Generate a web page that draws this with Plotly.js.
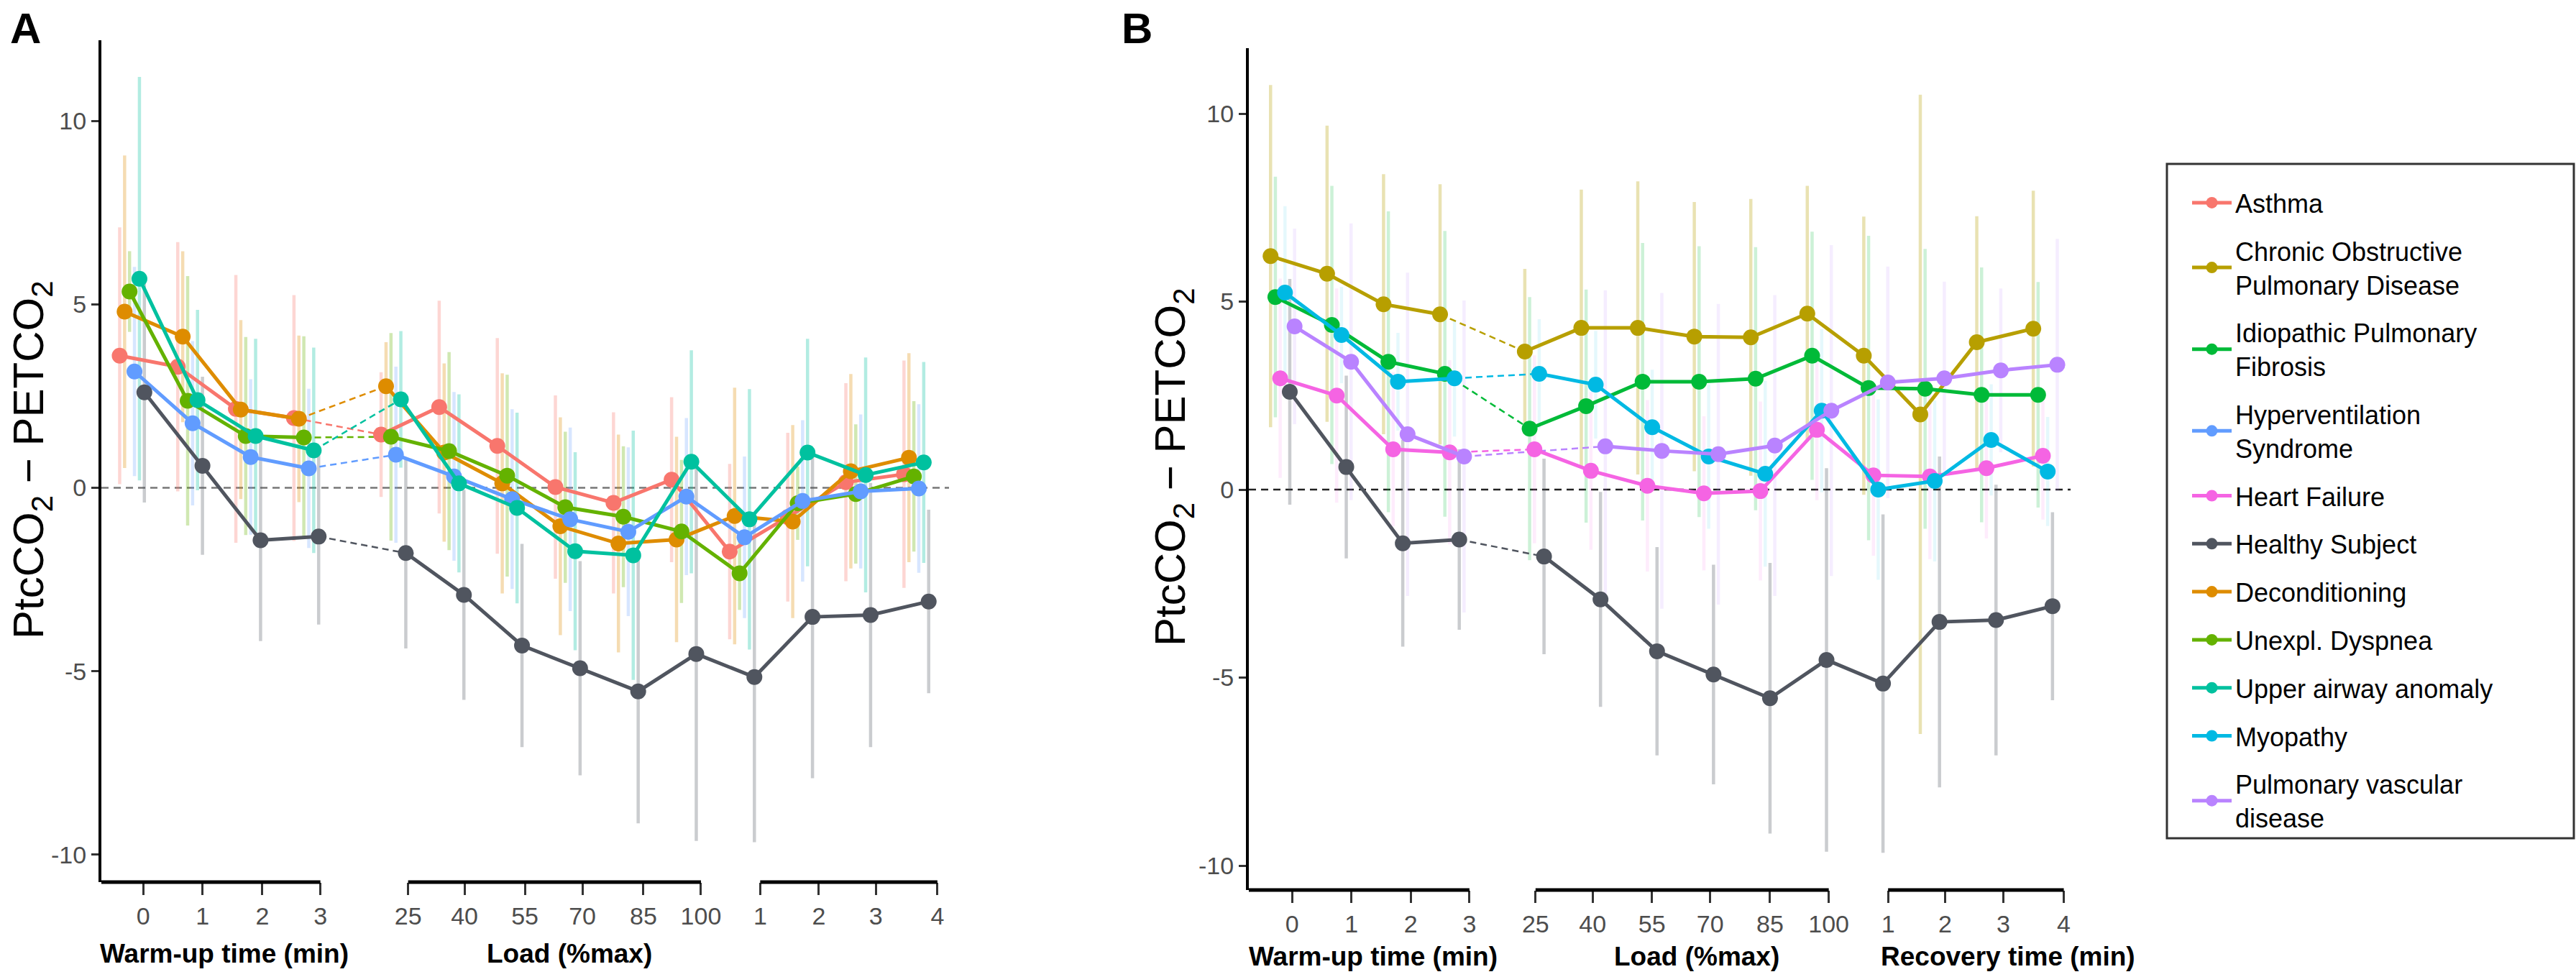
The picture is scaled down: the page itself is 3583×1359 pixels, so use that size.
<!DOCTYPE html>
<html>
<head>
<meta charset="utf-8">
<script src="https://cdn.plot.ly/plotly-3.0.1.min.js"></script>
<style>body{margin:0;background:#fff}</style>
</head>
<body>
<div id="chart" style="width:3583px;height:1359px"></div>
<script>
// x categories: warm-up (min) | load (%max) | recovery (min)
var tickLabels = ['0','1','2','3','25','40','55','70','85','100','1','2','3','4'];
var slots = [0, 1, 2, 3, 4.5, 5.5, 6.5, 7.5, 8.5, 9.5, 10.5, 11.5, 12.5, 13.5];
var yTickVals = [-10, -5, 0, 5, 10];
var yTickText = ['-10', '-5', '0', '5', '10'];

// mean and SD of PtcCO2 - PETCO2 per time point
var asthmaMean = [3.6, 3.3, 2.15, 1.9, 1.45, 2.2, 1.14, 0.02, -0.41, 0.22, -1.74, -0.8, 0.15, 0.37];
var asthmaSd   = [3.5, 3.4, 3.65, 3.35, 1.7, 2.9, 2.94, 2.5, 2.47, 2.25, 2.39, 2.3, 2.7, 3.1];
var decondMean = [4.8, 4.12, 2.13, 1.88, 2.77, 0.96, 0.12, -1.05, -1.52, -1.41, -0.77, -0.92, 0.45, 0.82];
var decondSd   = [4.26, 2.33, 2.44, 2.27, 1.2, 2.43, 3.0, 2.97, 2.97, 2.8, 3.5, 2.63, 2.65, 2.85];
var dyspneaMean = [5.35, 2.37, 1.41, 1.37, 1.39, 1.0, 0.33, -0.53, -0.79, -1.19, -2.33, -0.42, -0.17, 0.31];
var dyspneaSd   = [1.1, 3.4, 2.7, 2.76, 2.83, 2.7, 2.75, 2.06, 1.92, 1.95, 1.0, 1.0, 1.9, 2.05];
var hypervMean = [3.17, 1.76, 0.84, 0.53, 0.9, 0.31, -0.31, -0.86, -1.2, -0.24, -1.35, -0.36, -0.1, -0.02];
var hypervSd   = [2.85, 2.24, 2.12, 2.17, 2.4, 2.3, 2.45, 2.5, 2.3, 2.14, 2.2, 2.2, 2.1, 2.3];
var airwayMean = [5.7, 2.39, 1.41, 1.02, 2.41, 0.12, -0.55, -1.73, -1.84, 0.71, -0.86, 0.96, 0.35, 0.69];
var airwaySd   = [5.5, 2.46, 2.65, 2.8, 1.86, 2.43, 2.6, 2.7, 3.4, 3.04, 3.55, 3.1, 3.2, 2.74];
var healthyMean = [2.6, 0.6, -1.43, -1.33, -1.78, -2.92, -4.3, -4.92, -5.55, -4.53, -5.16, -3.52, -3.47, -3.1];
var healthySd   = [3.0, 2.43, 2.75, 2.4, 2.6, 2.86, 2.77, 2.92, 3.6, 5.1, 4.5, 4.4, 3.6, 2.5];

var copdMean = [6.21, 5.74, 4.93, 4.66, 3.67, 4.3, 4.3, 4.07, 4.05, 4.68, 3.56, 2.0, 3.92, 4.28];
var copdSd   = [4.55, 3.94, 3.46, 3.46, 2.2, 3.68, 3.9, 3.58, 3.68, 3.4, 3.7, 8.5, 3.35, 3.67];
var ipfMean = [5.12, 4.38, 3.4, 3.08, 1.62, 2.22, 2.87, 2.87, 2.95, 3.56, 2.7, 2.68, 2.52, 2.52];
var ipfSd   = [3.2, 3.7, 4.0, 3.8, 3.5, 3.1, 3.69, 3.6, 3.5, 3.3, 4.05, 3.72, 3.39, 3.0];
var hfMean = [2.96, 2.5, 1.07, 0.99, 1.07, 0.5, 0.1, -0.1, -0.04, 1.59, 0.38, 0.35, 0.57, 0.9];
var hfSd   = [2.65, 2.85, 2.05, 2.45, 2.5, 2.1, 2.28, 2.05, 2.38, 1.87, 2.14, 2.2, 1.87, 1.7];
var myoMean = [5.24, 4.11, 2.87, 2.96, 3.08, 2.79, 1.66, 0.88, 0.42, 2.1, 0.0, 0.23, 1.32, 0.48];
var myoSd   = [2.3, 1.28, 1.3, 1.55, 1.45, 1.43, 1.53, 1.92, 2.47, 2.17, 2.4, 2.14, 1.48, 1.45];
var pvdMean = [4.34, 3.4, 1.47, 0.88, null, 1.15, 1.03, 0.94, 1.17, 2.1, 2.85, 2.96, 3.17, 3.32];
var pvdSd   = [2.6, 3.68, 4.3, 4.15, null, 4.15, 4.2, 4.0, 4.0, 4.4, 3.08, 2.57, 2.18, 3.35];

var FONT = 'Liberation Sans, Arial, sans-serif';
var dodgeStep = 0.085;

// panel, name, data, style
var series = [
  {panel:'A', name:'Asthma', mean:asthmaMean, sd:asthmaSd, color:'#F8766D', alpha:0.3, dodge:-5, rank:1},
  {panel:'A', name:'Deconditioning', mean:decondMean, sd:decondSd, color:'#DE8C00', alpha:0.3, dodge:-4, rank:7},
  {panel:'A', name:'Unexpl. Dyspnea', mean:dyspneaMean, sd:dyspneaSd, color:'#64B200', alpha:0.3, dodge:-3, rank:8},
  {panel:'A', name:'Hyperventilation<br>Syndrome', mean:hypervMean, sd:hypervSd, color:'#619CFF', alpha:0.25, dodge:-2, rank:4},
  {panel:'A', name:'Upper airway anomaly', mean:airwayMean, sd:airwaySd, color:'#00C19F', alpha:0.3, dodge:-1, rank:9},
  {panel:'A', name:'Healthy Subject', mean:healthyMean, sd:healthySd, color:'#50555F', alpha:0.3, dodge:0, rank:6},
  {panel:'B', name:'Chronic Obstructive<br>Pulmonary Disease', mean:copdMean, sd:copdSd, color:'#B79F00', alpha:0.3, dodge:-4, rank:2},
  {panel:'B', name:'Idiopathic Pulmonary<br>Fibrosis', mean:ipfMean, sd:ipfSd, color:'#00BA38', alpha:0.2, dodge:-3, rank:3},
  {panel:'B', name:'Heart Failure', mean:hfMean, sd:hfSd, color:'#F564E3', alpha:0.12, dodge:-2, rank:5},
  {panel:'B', name:'Myopathy', mean:myoMean, sd:myoSd, color:'#00B9E3', alpha:0.1, dodge:-1, rank:10},
  {panel:'B', name:'Healthy Subject', mean:healthyMean, sd:healthySd, color:'#50555F', alpha:0.3, dodge:0, rank:6, noLegend:true},
  {panel:'B', name:'Pulmonary vascular<br>disease', mean:pvdMean, sd:pvdSd, color:'#B983FF', alpha:0.15, dodge:1, rank:11}
];

function rgba(hex, a) {
  var r = parseInt(hex.substr(1, 2), 16);
  var g = parseInt(hex.substr(3, 2), 16);
  var b = parseInt(hex.substr(5, 2), 16);
  return 'rgba(' + r + ',' + g + ',' + b + ',' + a + ')';
}

var barTraces = [];
var dashTraces = [];
var lineTraces = [];

for (var s = 0; s < series.length; s++) {
  var d = series[s];
  var xa = d.panel == 'A' ? 'x' : 'x2';
  var ya = d.panel == 'A' ? 'y' : 'y2';
  var xs = [];
  for (var i = 0; i < slots.length; i++) {
    xs.push(slots[i] + d.dodge * dodgeStep);
  }

  // error bars (mean +/- SD), drawn underneath everything
  barTraces.push({
    x: xs, y: d.mean, xaxis: xa, yaxis: ya,
    type: 'scatter', mode: 'markers',
    marker: {size: 1, color: 'rgba(0,0,0,0)'},
    error_y: {type: 'data', array: d.sd, visible: true, color: rgba(d.color, d.alpha), thickness: 4.5, width: 0},
    showlegend: false, hoverinfo: 'skip'
  });

  // solid line: warm-up part, gap, load + recovery part
  var lx = [], ly = [];
  for (i = 0; i < slots.length; i++) {
    if (i == 4) { lx.push(null); ly.push(null); }
    lx.push(xs[i]); ly.push(d.mean[i]);
  }
  lineTraces.push({
    x: lx, y: ly, xaxis: xa, yaxis: ya,
    type: 'scatter', mode: 'lines+markers', name: d.name,
    line: {color: d.color, width: 5},
    marker: {color: d.color, size: 22},
    connectgaps: false,
    legendgroup: 'g' + d.rank, legendrank: d.rank,
    showlegend: !d.noLegend
  });

  // thin dashed link between warm-up and first load step
  var j = 4;
  while (d.mean[j] == null) j++;
  dashTraces.push({
    x: [xs[3], xs[j]], y: [d.mean[3], d.mean[j]], xaxis: xa, yaxis: ya,
    type: 'scatter', mode: 'lines',
    line: {color: d.color, width: 2.5, dash: '9px,6px'},
    showlegend: false, hoverinfo: 'skip'
  });
}

var data = barTraces.concat(dashTraces).concat(lineTraces);

var W = 3583, H = 1359;
function px(x) { return x / W; }
function py(y) { return 1 - y / H; }

var ticksA = [-0.02, 1.0, 2.03, 3.03, 4.54, 5.51, 6.55, 7.54, 8.59, 9.58, 10.6, 11.61, 12.59, 13.65];
var ticksB = [0.04, 1.09, 2.14, 3.18, 4.35, 5.36, 6.41, 7.44, 8.5, 9.54, 10.59, 11.6, 12.63, 13.7];

function xAxis(domain, range, tickvals) {
  return {
    domain: domain, range: range, showgrid: false, zeroline: false, showline: false,
    tickmode: 'array', tickvals: tickvals, ticktext: tickLabels,
    ticks: 'outside', ticklen: 17, tickwidth: 3, tickcolor: '#333',
    tickfont: {family: FONT, size: 34, color: '#4d4d4d'}, fixedrange: true
  };
}
function yAxis(domain, range, anchor) {
  return {
    domain: domain, range: range, anchor: anchor, showgrid: false, zeroline: false,
    showline: true, linecolor: '#000', linewidth: 4,
    tickmode: 'array', tickvals: yTickVals, ticktext: yTickText,
    ticks: 'outside', ticklen: 10, tickwidth: 3, tickcolor: '#333',
    tickfont: {family: FONT, size: 34, color: '#4d4d4d'}, fixedrange: true
  };
}

var xa = xAxis([px(141), px(1320)], [-0.74, 13.85], ticksA);
var xb = xAxis([px(1737), px(2880)], [-0.725, 13.82], ticksB);
xb.anchor = 'y2';
var ybA = py(1227), ybB = py(1238);

function bracket(xref, x0, x1, yp) {
  return {type: 'line', xref: xref, yref: 'paper', x0: x0, x1: x1, y0: yp, y1: yp,
          line: {color: '#000', width: 5}, layer: 'above'};
}

var shapes = [
  bracket('x', -0.74, 3.03, ybA), bracket('x', 4.54, 9.58, ybA), bracket('x', 10.6, 13.65, ybA),
  bracket('x2', -0.725, 3.18, ybB), bracket('x2', 4.35, 9.54, ybB), bracket('x2', 10.59, 13.7, ybB),
  {type: 'line', xref: 'x domain', yref: 'y', x0: 0, x1: 1, y0: 0, y1: 0, layer: 'below',
   line: {color: '#777', width: 2.5, dash: '10px,7px'}},
  {type: 'line', xref: 'x2 domain', yref: 'y2', x0: 0, x1: 1, y0: 0, y1: 0, layer: 'below',
   line: {color: '#222', width: 2.5, dash: '10px,7px'}},
  // legend frame
  {type: 'rect', xref: 'paper', yref: 'paper', x0: px(3014), x1: px(3580), y0: py(1166), y1: py(228),
   line: {color: '#333', width: 3}, fillcolor: 'rgba(0,0,0,0)'}
];

var yTitle = 'PtcCO<sub>2</sub> \u2212 PETCO<sub>2</sub>';
function note(text, x, y, size, bold, angle) {
  return {xref: 'paper', yref: 'paper', x: px(x), y: py(y), text: bold ? '<b>' + text + '</b>' : text,
          showarrow: false, xanchor: 'center', yanchor: 'middle', textangle: angle || 0,
          font: {family: FONT, size: size, color: '#000'}};
}

var annotations = [
  note('A', 35, 40, 60, true), note('B', 1581, 40, 60, true),
  note(yTitle, 44, 640, 60, false, -90), note(yTitle, 1632, 650, 60, false, -90),
  note('Warm-up time (min)', 312, 1326, 37, true), note('Load (%max)', 792, 1326, 37, true),
  note('Warm-up time (min)', 1910, 1330, 37, true), note('Load (%max)', 2360, 1330, 37, true),
  note('Recovery time (min)', 2793, 1330, 37, true)
];

var layout = {
  width: W, height: H,
  margin: {l: 0, r: 0, t: 0, b: 0},
  paper_bgcolor: '#fff', plot_bgcolor: '#fff',
  font: {family: FONT},
  xaxis: xa,
  yaxis: yAxis([ybA, py(56)], [-10.75, 12.2], 'x'),
  xaxis2: xb,
  yaxis2: yAxis([ybB, py(67)], [-10.65, 11.74], 'x2'),
  shapes: shapes,
  annotations: annotations,
  showlegend: true,
  legend: {
    x: px(3044), y: py(252), xanchor: 'left', yanchor: 'top',
    bgcolor: 'rgba(0,0,0,0)', borderwidth: 0,
    font: {family: FONT, size: 36, color: '#000'},
    traceorder: 'grouped', tracegroupgap: 17, itemwidth: 55, valign: 'middle'
  }
};

Plotly.newPlot('chart', data, layout, {staticPlot: true});
</script>
</body>
</html>
